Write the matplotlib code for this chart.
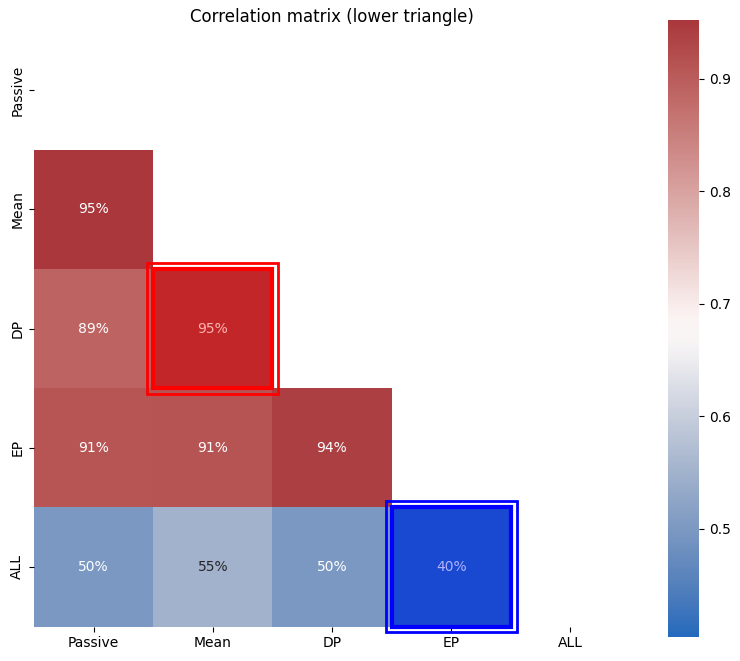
import numpy as np
import pandas as pd
import matplotlib
matplotlib.use("Agg")
import matplotlib.pyplot as plt
import seaborn as sns
from matplotlib.patches import Rectangle

labels = ["Passive", "Mean", "DP", "EP", "ALL"]

# lower-triangle correlations (row by row)
row_mean = [0.951]
row_dp = [0.89, 0.952]
row_ep = [0.91, 0.912, 0.94]
row_all = [0.50, 0.55, 0.50, 0.404]

corr = np.eye(len(labels))
for i, row in enumerate([row_mean, row_dp, row_ep, row_all], start=1):
    corr[i, :len(row)] = row
    corr[:len(row), i] = row
corr = pd.DataFrame(corr, index=labels, columns=labels)

mask = np.triu(np.ones_like(corr, dtype=bool))

fig = plt.figure(figsize=(7.4, 6.61), dpi=100)
ax = fig.add_axes([0.0459, 0.0514, 0.8054, 0.9032])
cax = fig.add_axes([0.9027, 0.0363, 0.0419, 0.9334])

sns.heatmap(corr, mask=mask, cmap="vlag", annot=True, fmt=".0%",
            square=True, ax=ax, cbar_ax=cax)
ax.set_title("Correlation matrix (lower triangle)")

# highlight cells: (row, col, colour) - overlay sits on top of the text
highlights = [(2, 1, (1, 0, 0)), (4, 3, (0, 0, 1))]
for i, j, c in highlights:
    ax.add_patch(Rectangle((j, i), 1, 1, facecolor=c + (0.3,),
                           edgecolor=c, lw=3, clip_on=False, zorder=5))
    ax.add_patch(Rectangle((j - 0.05, i - 0.05), 1.1, 1.1, fill=False,
                           edgecolor=c, lw=2, clip_on=False, zorder=5))

fig.savefig("out.png", dpi=100)
